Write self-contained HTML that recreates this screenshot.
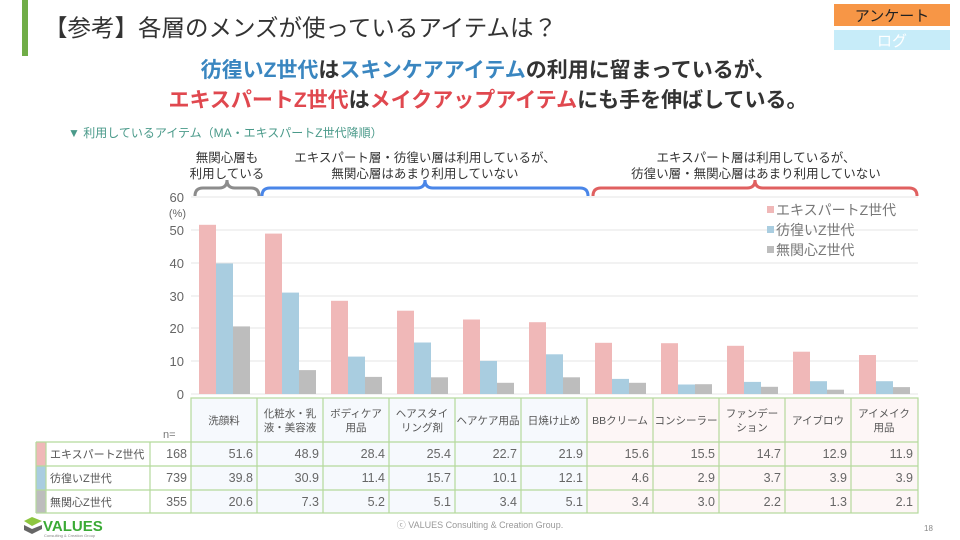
<!DOCTYPE html>
<html><head><meta charset="utf-8"><style>
body{margin:0;width:960px;height:540px;background:#fff;overflow:hidden;font-family:"Liberation Sans","Noto Sans CJK JP",sans-serif}
svg{display:block}
</style></head><body>
<svg width="960" height="540" xmlns="http://www.w3.org/2000/svg" font-family="Liberation Sans, Noto Sans CJK JP, sans-serif">
<rect x="22" y="0" width="6" height="56" fill="#70ad47"/>
<text x="44" y="36" font-size="23.5" fill="#333">【参考】各層のメンズが使っているアイテムは？</text>
<rect x="834" y="4" width="116" height="22" fill="#f79646"/>
<text x="892" y="21" font-size="15" fill="#222" text-anchor="middle">アンケート</text>
<rect x="834" y="30" width="116" height="20" fill="#c7ecf9"/>
<text x="892" y="46" font-size="15" fill="#fff" text-anchor="middle">ログ</text>
<text x="488" y="77" font-size="21" text-anchor="middle" font-weight="bold"><tspan fill="#3a86c0">彷徨いZ世代</tspan><tspan fill="#333">は</tspan><tspan fill="#3a86c0">スキンケアアイテム</tspan><tspan fill="#333">の利用に留まっているが、</tspan></text>
<text x="488" y="107" font-size="21" text-anchor="middle" font-weight="bold"><tspan fill="#e0484f">エキスパートZ世代</tspan><tspan fill="#333">は</tspan><tspan fill="#e0484f">メイクアップアイテム</tspan><tspan fill="#333">にも手を伸ばしている。</tspan></text>
<text x="68" y="137" font-size="12" fill="#4a9a8a">▼ 利用しているアイテム（MA・エキスパートZ世代降順）</text>
<g font-size="12.5" fill="#333" text-anchor="middle">
<text x="227" y="162">無関心層も</text><text x="227" y="178">利用している</text>
<text x="425" y="162">エキスパート層・彷徨い層は利用しているが、</text><text x="425" y="178">無関心層はあまり利用していない</text>
<text x="756" y="162">エキスパート層は利用しているが、</text><text x="756" y="178">彷徨い層・無関心層はあまり利用していない</text>
</g>
<g fill="none" stroke-width="3">
<path d="M195,196 q0,-8 8,-8 h16 q8,0 8,-8 q0,8 8,8 h16 q8,0 8,8" stroke="#8c8c8c"/>
<path d="M262,196 q0,-8 8,-8 h147 q8,0 8,-8 q0,8 8,8 h147 q8,0 8,8" stroke="#4a86e8"/>
<path d="M593,196 q0,-8 8,-8 h146 q8,0 8,-8 q0,8 8,8 h146 q8,0 8,8" stroke="#e06060"/>
</g>
<g stroke="#e4e4e4" stroke-width="1">
<line x1="191" x2="918" y1="197" y2="197"/><line x1="191" x2="918" y1="230" y2="230"/><line x1="191" x2="918" y1="263" y2="263"/><line x1="191" x2="918" y1="296" y2="296"/><line x1="191" x2="918" y1="328" y2="328"/><line x1="191" x2="918" y1="361" y2="361"/><line x1="191" x2="918" y1="394" y2="394"/>
</g>
<g font-size="13" fill="#666" text-anchor="end">
<text x="184" y="202">60</text><text x="186" y="217" font-size="11">(%)</text><text x="184" y="235">50</text><text x="184" y="268">40</text><text x="184" y="301">30</text><text x="184" y="333">20</text><text x="184" y="366">10</text><text x="184" y="399">0</text>
</g>
<g fill="#f0b8b8">
<rect x="199" y="224.8" width="17" height="169.2"/><rect x="265" y="233.6" width="17" height="160.4"/><rect x="331" y="300.8" width="17" height="93.2"/><rect x="397" y="310.7" width="17" height="83.3"/><rect x="463" y="319.5" width="17" height="74.5"/><rect x="529" y="322.2" width="17" height="71.8"/><rect x="595" y="342.8" width="17" height="51.2"/><rect x="661" y="343.2" width="17" height="50.8"/><rect x="727" y="345.8" width="17" height="48.2"/><rect x="793" y="351.7" width="17" height="42.3"/><rect x="859" y="355" width="17" height="39"/>
</g>
<g fill="#a9cde0">
<rect x="216" y="263.5" width="17" height="130.5"/><rect x="282" y="292.6" width="17" height="101.4"/><rect x="348" y="356.6" width="17" height="37.4"/><rect x="414" y="342.5" width="17" height="51.5"/><rect x="480" y="360.9" width="17" height="33.1"/><rect x="546" y="354.3" width="17" height="39.7"/><rect x="612" y="378.9" width="17" height="15.1"/><rect x="678" y="384.5" width="17" height="9.5"/><rect x="744" y="381.9" width="17" height="12.1"/><rect x="810" y="381.2" width="17" height="12.8"/><rect x="876" y="381.2" width="17" height="12.8"/>
</g>
<g fill="#bdbdbd">
<rect x="233" y="326.4" width="17" height="67.6"/><rect x="299" y="370.1" width="17" height="23.9"/><rect x="365" y="376.9" width="17" height="17.1"/><rect x="431" y="377.3" width="17" height="16.7"/><rect x="497" y="382.8" width="17" height="11.2"/><rect x="563" y="377.3" width="17" height="16.7"/><rect x="629" y="382.8" width="17" height="11.2"/><rect x="695" y="384.2" width="17" height="9.8"/><rect x="761" y="386.8" width="17" height="7.2"/><rect x="827" y="389.7" width="17" height="4.3"/><rect x="893" y="387.1" width="17" height="6.9"/>
</g>
<g font-size="14" fill="#777">
<rect x="767" y="206" width="7" height="7" fill="#f0b8b8"/><text x="776" y="215">エキスパートZ世代</text>
<rect x="767" y="226" width="7" height="7" fill="#a9cde0"/><text x="776" y="235">彷徨いZ世代</text>
<rect x="767" y="246" width="7" height="7" fill="#bdbdbd"/><text x="776" y="255">無関心Z世代</text>
</g>
<rect x="191" y="398" width="396" height="115" fill="#f6f9fd"/>
<rect x="587" y="398" width="331" height="115" fill="#fdf6f6"/>
<rect x="36" y="442" width="155" height="71" fill="#fff"/>
<rect x="36" y="442" width="10" height="24" fill="#f0b8b8"/>
<rect x="36" y="466" width="10" height="24" fill="#a9cde0"/>
<rect x="36" y="490" width="10" height="23" fill="#bdbdbd"/>
<g stroke="#b5d99c" stroke-width="1.2" fill="none">
<rect x="191" y="398" width="727" height="115"/>
<line x1="36" x2="918" y1="442" y2="442"/><line x1="36" x2="918" y1="466" y2="466"/><line x1="36" x2="918" y1="490" y2="490"/><line x1="36" x2="191" y1="513" y2="513"/>
<line x1="36" x2="36" y1="442" y2="513"/><line x1="46" x2="46" y1="442" y2="513"/><line x1="150" x2="150" y1="442" y2="513"/>
<line x1="257" x2="257" y1="398" y2="513"/><line x1="323" x2="323" y1="398" y2="513"/><line x1="389" x2="389" y1="398" y2="513"/><line x1="455" x2="455" y1="398" y2="513"/><line x1="521" x2="521" y1="398" y2="513"/><line x1="587" x2="587" y1="398" y2="513"/><line x1="653" x2="653" y1="398" y2="513"/><line x1="719" x2="719" y1="398" y2="513"/><line x1="785" x2="785" y1="398" y2="513"/><line x1="851" x2="851" y1="398" y2="513"/>
</g>
<g font-size="10.5" fill="#555" text-anchor="middle">
<text x="224" y="424">洗顔料</text>
<text x="290" y="417">化粧水・乳</text><text x="290" y="431">液・美容液</text>
<text x="356" y="417">ボディケア</text><text x="356" y="431">用品</text>
<text x="422" y="417">ヘアスタイ</text><text x="422" y="431">リング剤</text>
<text x="488" y="424">ヘアケア用品</text>
<text x="554" y="424">日焼け止め</text>
<text x="620" y="424">BBクリーム</text>
<text x="686" y="424">コンシーラー</text>
<text x="752" y="417">ファンデー</text><text x="752" y="431">ション</text>
<text x="818" y="424">アイブロウ</text>
<text x="884" y="417">アイメイク</text><text x="884" y="431">用品</text>
</g>
<text x="163" y="438" font-size="11" fill="#777">n=</text>
<g font-size="11" fill="#555"><text x="50" y="458">エキスパートZ世代</text><text x="50" y="482">彷徨いZ世代</text><text x="50" y="506">無関心Z世代</text></g>
<g font-size="12.5" fill="#666" text-anchor="end">
<text x="187" y="458">168</text><text x="187" y="482">739</text><text x="187" y="506">355</text>
<text x="253" y="458">51.6</text><text x="319" y="458">48.9</text><text x="385" y="458">28.4</text><text x="451" y="458">25.4</text><text x="517" y="458">22.7</text><text x="583" y="458">21.9</text><text x="649" y="458">15.6</text><text x="715" y="458">15.5</text><text x="781" y="458">14.7</text><text x="847" y="458">12.9</text><text x="913" y="458">11.9</text>
<text x="253" y="482">39.8</text><text x="319" y="482">30.9</text><text x="385" y="482">11.4</text><text x="451" y="482">15.7</text><text x="517" y="482">10.1</text><text x="583" y="482">12.1</text><text x="649" y="482">4.6</text><text x="715" y="482">2.9</text><text x="781" y="482">3.7</text><text x="847" y="482">3.9</text><text x="913" y="482">3.9</text>
<text x="253" y="506">20.6</text><text x="319" y="506">7.3</text><text x="385" y="506">5.2</text><text x="451" y="506">5.1</text><text x="517" y="506">3.4</text><text x="583" y="506">5.1</text><text x="649" y="506">3.4</text><text x="715" y="506">3.0</text><text x="781" y="506">2.2</text><text x="847" y="506">1.3</text><text x="913" y="506">2.1</text>
</g>
<path d="M24,521 l8,-4 l10,4 l-10,5z" fill="#8dc63f"/><path d="M24,525 l8,4 l10,-4 v4 l-10,5 l-8,-4z" fill="#666"/>
<text x="43" y="531" font-size="15" fill="#3aaa35" font-weight="bold">VALUES</text>
<text x="44" y="537" font-size="4" fill="#888">Consulting &amp; Creation Group</text>
<text x="480" y="528" font-size="9" fill="#999" text-anchor="middle">ⓒ VALUES Consulting &amp; Creation Group.</text>
<text x="924" y="531" font-size="8" fill="#888">18</text>
</svg>
</body></html>
